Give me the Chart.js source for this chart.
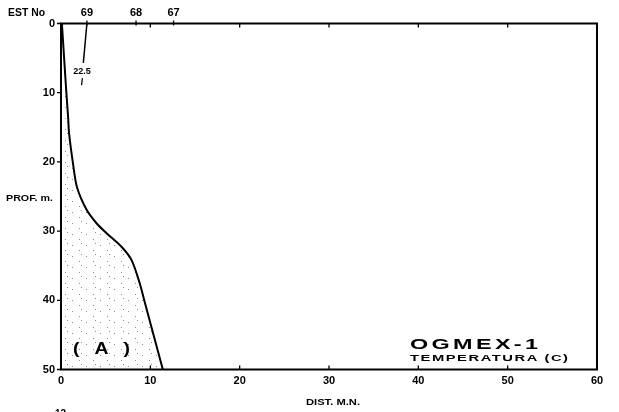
<!DOCTYPE html>
<html>
<head>
<meta charset="utf-8">
<script src="https://cdn.jsdelivr.net/npm/chart.js@4/dist/chart.umd.min.js"></script>
<style>
html,body{margin:0;padding:0;background:#fff;}
#wrap{width:619px;height:412px;position:relative;}
</style>
</head>
<body>
<div id="wrap"><canvas id="c" width="619" height="412"></canvas></div>
<script>
// Bottom profile (distance in nautical miles, depth in m)
const bottomDist  = [0.1, 0.35, 0.6, 0.8, 0.9, 1.34, 1.8, 2.9, 4.0, 5.1, 6.8, 7.9, 8.8, 9.4, 11.4];
const bottomDepth = [0,   5,    10,  13.6, 15.8, 20.2, 23.7, 27, 28.9, 30.3, 32.3, 34.2, 37.5, 40.4, 50];
// Isotherm 22.5 segment
const isoDist  = [2.9, 2.5];
const isoDepth = [0, 5.7];
const isoTickDist  = [2.4, 2.3];
const isoTickDepth = [7.9, 8.9];
const isoLabel = '22.5';
const isoLabelPos = [2.35, 7.0];
// Stations
const stationNames = ['69', '68', '67'];
const stationDist  = [2.9, 8.4, 12.6];
// Axis ticks
const xTicks = [0, 10, 20, 30, 40, 50, 60];
const yTicks = [0, 10, 20, 30, 40, 50];

const FONT = '"Liberation Sans", Arial, sans-serif';

const toPts = (xs, ys) => xs.map((x, i) => ({x, y: ys[i]}));

function fitText(ctx, text, x, y, width, font, spacing) {
  ctx.save();
  ctx.font = font;
  ctx.letterSpacing = (spacing || 0) + 'px';
  ctx.textAlign = 'left';
  ctx.textBaseline = 'middle';
  const w = ctx.measureText(text).width - (spacing || 0);
  ctx.translate(x, y);
  ctx.scale(width / w, 1);
  ctx.fillText(text, 0, 0);
  ctx.restore();
}

const decor = {
  id: 'decor',
  beforeDatasetsDraw(chart) {
    const {ctx} = chart;
    const xs = chart.scales.x, ys = chart.scales.y;
    const pc = document.createElement('canvas');
    pc.width = 14; pc.height = 11;
    const p = pc.getContext('2d');
    p.fillStyle = 'rgba(0,0,0,0.45)';
    p.fillRect(2, 3, 1, 1); p.fillRect(9, 8, 1, 1); p.fillRect(11, 1, 1, 1);
    ctx.save();
    ctx.beginPath();
    ctx.moveTo(xs.getPixelForValue(0), ys.getPixelForValue(0));
    bottomDist.forEach((d, i) => ctx.lineTo(xs.getPixelForValue(d), ys.getPixelForValue(bottomDepth[i])));
    ctx.lineTo(xs.getPixelForValue(0), ys.getPixelForValue(50));
    ctx.closePath();
    ctx.fillStyle = ctx.createPattern(pc, 'repeat');
    ctx.fill();
    ctx.restore();
  },
  afterDatasetsDraw(chart) {
    const {ctx} = chart;
    const xs = chart.scales.x, ys = chart.scales.y;
    const L = xs.getPixelForValue(0), R = xs.getPixelForValue(60);
    const T = ys.getPixelForValue(0), B = ys.getPixelForValue(50);
    ctx.save();
    ctx.strokeStyle = '#000';
    ctx.lineWidth = 2;
    ctx.strokeRect(L, T, R - L, B - T);
    ctx.lineWidth = 1.3;
    ctx.beginPath();
    xTicks.forEach(v => {
      if (v === 0) return;
      const px = xs.getPixelForValue(v);
      ctx.moveTo(px, T); ctx.lineTo(px, T + 4);
      ctx.moveTo(px, B); ctx.lineTo(px, B - 4);
    });
    yTicks.forEach(v => {
      const py = ys.getPixelForValue(v);
      ctx.moveTo(L, py); ctx.lineTo(L - 4, py);
    });
    stationDist.forEach(v => {
      const px = xs.getPixelForValue(v);
      ctx.moveTo(px, T - 3); ctx.lineTo(px, T + 2);
    });
    ctx.stroke();

    ctx.fillStyle = '#000';
    ctx.textBaseline = 'middle';
    ctx.font = 'bold 11px ' + FONT;
    ctx.textAlign = 'center';
    stationNames.forEach((n, i) => ctx.fillText(n, xs.getPixelForValue(stationDist[i]), 13));
    ctx.font = 'bold 9px ' + FONT;
    ctx.fillText(isoLabel, xs.getPixelForValue(isoLabelPos[0]), ys.getPixelForValue(isoLabelPos[1]));

    fitText(ctx, 'EST No', 8, 13, 37, 'bold 10px ' + FONT, 0);
    fitText(ctx, 'PROF. m.', 6, 198, 47, 'bold 9.5px ' + FONT, 0);
    fitText(ctx, 'DIST. M.N.', 306, 403, 54, 'bold 9px ' + FONT, 0);
    fitText(ctx, 'OGMEX-1', 410, 345, 128, 'bold 14px ' + FONT, 2);
    fitText(ctx, 'TEMPERATURA (C)', 410, 358, 158, 'bold 9.5px ' + FONT, 1);
    fitText(ctx, '( A )', 73, 350, 57, 'bold 16px ' + FONT, 4);

    ctx.font = 'bold 10px ' + FONT;
    ctx.textAlign = 'left';
    ctx.fillText('12', 55, 414);
    ctx.restore();
  }
};

new Chart(document.getElementById('c'), {
  type: 'scatter',
  data: {
    datasets: [
      {data: toPts(bottomDist, bottomDepth), showLine: true, borderColor: '#000', borderWidth: 2, pointRadius: 0, tension: 0.3, fill: false},
      {data: toPts(isoDist, isoDepth), showLine: true, borderColor: '#000', borderWidth: 1.5, pointRadius: 0},
      {data: toPts(isoTickDist, isoTickDepth), showLine: true, borderColor: '#000', borderWidth: 1.2, pointRadius: 0}
    ]
  },
  options: {
    responsive: false,
    animation: false,
    devicePixelRatio: 1,
    layout: {padding: {top: 23.5, right: 22, left: 0, bottom: 0}},
    plugins: {legend: {display: false}, tooltip: {enabled: false}},
    scales: {
      x: {
        type: 'linear', min: 0, max: 60,
        afterFit: s => { s.height = 42.5; },
        afterBuildTicks: s => { s.ticks = xTicks.map(v => ({value: v})); },
        grid: {display: false, drawTicks: false},
        border: {display: false},
        ticks: {color: '#000', font: {family: FONT, size: 11, weight: 'bold'}, padding: 5, maxRotation: 0}
      },
      y: {
        type: 'linear', min: 0, max: 50, reverse: true,
        afterFit: s => { s.width = 61; },
        afterBuildTicks: s => { s.ticks = yTicks.map(v => ({value: v})); },
        grid: {display: false, drawTicks: false},
        border: {display: false},
        ticks: {color: '#000', font: {family: FONT, size: 11, weight: 'bold'}, padding: 6}
      }
    }
  },
  plugins: [decor]
});
</script>
</body>
</html>
